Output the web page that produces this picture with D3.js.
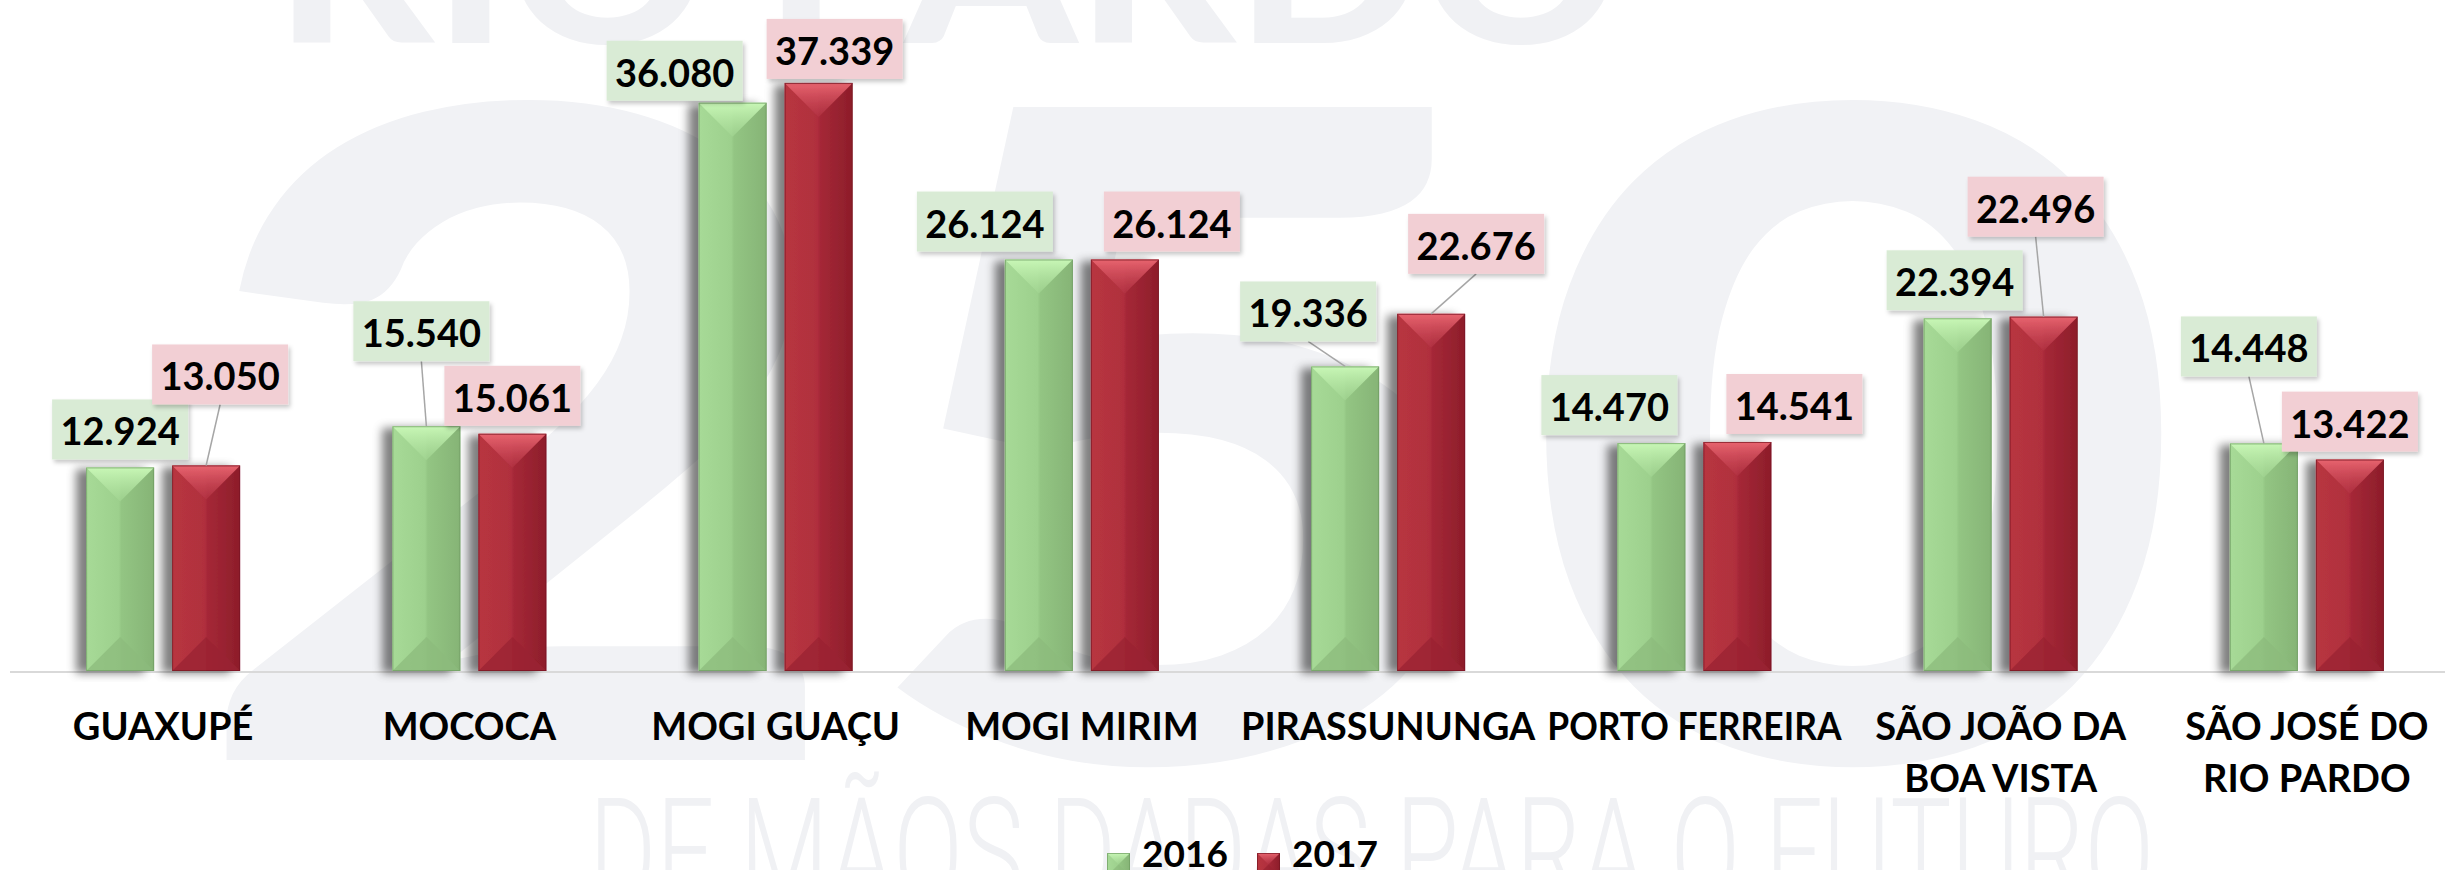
<!DOCTYPE html>
<html>
<head>
<meta charset="utf-8">
<script src="https://cdn.jsdelivr.net/npm/d3@7"></script>
<style>
  html, body { margin: 0; padding: 0; background: #fff; }
  svg { display: block; }
</style>
</head>
<body>
<div id="chart"></div>
<script>
// data
const categories = ['GUAXUPÉ', 'MOCOCA', 'MOGI GUAÇU', 'MOGI MIRIM', 'PIRASSUNUNGA',
  'PORTO FERREIRA', 'SÃO JOÃO DA\nBOA VISTA', 'SÃO JOSÉ DO\nRIO PARDO'];
const seriesNames = ['2016', '2017'];
const values2016 = [12924, 15540, 36080, 26124, 19336, 14470, 22394, 14448];
const values2017 = [13050, 15061, 37339, 26124, 22676, 14541, 22496, 13422];

// manual nudges of the data labels (px), as they were dragged in the original
const nudge2016 = [[0, 0], [-5, -57], [-58, 6], [-54, 0], [-37, -17], [-42, 0], [-3, 0], [-15, -59]];
const nudge2017 = [[14, -53], [0, 0], [16, 4], [47, 0], [45, -32], [57, 0], [-8, -72], [0, 0]];

const width = 2445, height = 870;
const baseY = 671;
const FONT = "Lato, 'Open Sans', sans-serif";

const svg = d3.select('#chart').append('svg')
  .attr('width', width)
  .attr('height', height);

const defs = svg.append('defs');

// colours per series
const pal = {
  '2016': {side: ['#a7da97', '#9dd08d', '#93c583', '#86b476'], top: ['#c8f7b6', '#a3d693'], bottom: '#8cbb7c', edge: '#6f9d62', box: '#d9ebd5'},
  '2017': {side: ['#b8363f', '#b02f3e', '#a52837', '#8d1d2a'], top: ['#e8646f', '#b53445'], bottom: '#992331', edge: '#761522', box: '#f2cfd4'}
};

seriesNames.forEach(s => {
  const p = pal[s];
  const g = defs.append('linearGradient').attr('id', 'side' + s)
    .attr('x1', 0).attr('x2', 1).attr('y1', 0).attr('y2', 0);
  g.append('stop').attr('offset', '0%').attr('stop-color', p.side[0]);
  g.append('stop').attr('offset', '48%').attr('stop-color', p.side[1]);
  g.append('stop').attr('offset', '52%').attr('stop-color', p.side[2]);
  g.append('stop').attr('offset', '100%').attr('stop-color', p.side[3]);
  const t = defs.append('linearGradient').attr('id', 'top' + s)
    .attr('x1', 0).attr('x2', 0).attr('y1', 0).attr('y2', 1);
  t.append('stop').attr('offset', '0%').attr('stop-color', p.top[0]);
  t.append('stop').attr('offset', '100%').attr('stop-color', p.top[1]).attr('stop-opacity', 0.6);
});

// bar shadow falls to the left
const sh = defs.append('filter').attr('id', 'barShadow')
  .attr('x', '-60%').attr('y', '-5%').attr('width', '200%').attr('height', '110%');
sh.append('feGaussianBlur').attr('in', 'SourceAlpha').attr('stdDeviation', 5);
sh.append('feOffset').attr('dx', -10).attr('dy', 2).attr('result', 'off');
sh.append('feFlood').attr('flood-color', '#000').attr('flood-opacity', 0.5);
sh.append('feComposite').attr('in2', 'off').attr('operator', 'in');
const shm = sh.append('feMerge');
shm.append('feMergeNode');
shm.append('feMergeNode').attr('in', 'SourceGraphic');

const ls = defs.append('filter').attr('id', 'boxShadow')
  .attr('x', '-10%').attr('y', '-10%').attr('width', '130%').attr('height', '140%');
ls.append('feGaussianBlur').attr('in', 'SourceAlpha').attr('stdDeviation', 2);
ls.append('feOffset').attr('dx', 2).attr('dy', 3).attr('result', 'off');
ls.append('feFlood').attr('flood-color', '#000').attr('flood-opacity', 0.22);
ls.append('feComposite').attr('in2', 'off').attr('operator', 'in');
const lsm = ls.append('feMerge');
lsm.append('feMergeNode');
lsm.append('feMergeNode').attr('in', 'SourceGraphic');

// watermark in the background
const wm = svg.append('g').attr('class', 'watermark');
wm.append('text')
  .attr('x', 275).attr('y', 43)
  .attr('textLength', 1345).attr('lengthAdjust', 'spacingAndGlyphs')
  .style('font-family', FONT).style('font-weight', 900).style('font-size', '215px')
  .attr('fill', '#f0f1f4')
  .text('RIO PARDO');
wm.append('text')
  .attr('x', 187).attr('y', 760)
  .attr('textLength', 2000).attr('lengthAdjust', 'spacingAndGlyphs')
  .style('font-family', FONT).style('font-weight', 900).style('font-size', '900px')
  .attr('fill', '#f1f2f5')
  .text('250');
wm.append('text')
  .attr('x', 589).attr('y', 905)
  .attr('textLength', 1565).attr('lengthAdjust', 'spacingAndGlyphs')
  .style('font-family', 'Roboto, ' + FONT).style('font-weight', 300).style('font-size', '150px')
  .attr('fill', '#f0f1f4')
  .text('DE MÃOS DADAS PARA O FUTURO');

// scales
const x0 = d3.scaleBand().domain(categories).range([10, 2460]);
const barW = 68, barGap = 18;
const x1 = d3.scaleBand().domain(seriesNames)
  .range([x0.bandwidth() / 2 - barW - barGap / 2, x0.bandwidth() / 2 + barW + barGap / 2])
  .paddingInner(barGap / (barW + barGap));
const y = d3.scaleLinear().domain([0, 40000]).range([baseY, 41]);

const rows = seriesNames.map((s, si) => ({
  name: s,
  values: si === 0 ? values2016 : values2017,
  nudge: si === 0 ? nudge2016 : nudge2017
}));

const points = [];
rows.forEach(r => r.values.forEach((v, i) => points.push({
  series: r.name, cat: categories[i], value: v, nudge: r.nudge[i]
})));

// axis line
svg.append('line')
  .attr('x1', 10).attr('x2', width)
  .attr('y1', baseY + 1).attr('y2', baseY + 1)
  .attr('stroke', '#d9d9d9').attr('stroke-width', 2);

// bars with a bevel
function bevelBar(g, bx, by, w, h, s) {
  const p = pal[s];
  const d = Math.min(w / 2, h / 2);
  g.append('rect')
    .attr('x', bx).attr('y', by).attr('width', w).attr('height', h)
    .attr('fill', `url(#side${s})`);
  g.append('path')
    .attr('d', `M${bx},${by}L${bx + w},${by}L${bx + w / 2},${by + d}Z`)
    .attr('fill', `url(#top${s})`);
  g.append('path')
    .attr('d', `M${bx},${by + h}L${bx + w},${by + h}L${bx + w / 2},${by + h - d}Z`)
    .attr('fill', p.bottom).attr('opacity', 0.75);
  g.append('rect')
    .attr('x', bx + 0.5).attr('y', by + 0.5).attr('width', w - 1).attr('height', h - 1)
    .attr('fill', 'none').attr('stroke', p.edge).attr('stroke-opacity', 0.7).attr('stroke-width', 1);
}

const barLayer = svg.append('g').attr('class', 'bars');
points.forEach(d => {
  const bx = x0(d.cat) + x1(d.series);
  const by = y(d.value);
  const g = barLayer.append('g').attr('filter', 'url(#barShadow)');
  bevelBar(g, bx, by, x1.bandwidth(), baseY - by, d.series);
});

// data labels
const boxW = 136, boxH = 60, boxGap = 8;
const fmt = d3.formatLocale({decimal: ',', thousands: '.', grouping: [3]}).format(',d');
const labLayer = svg.append('g').attr('class', 'labels');
points.forEach(d => {
  const cx = x0(d.cat) + x1(d.series) + x1.bandwidth() / 2;
  const top = y(d.value);
  const bcx = cx + d.nudge[0];
  const bBottom = top - boxGap + d.nudge[1];
  if (Math.abs(d.nudge[1]) > 10) {
    labLayer.append('line')
      .attr('x1', bcx).attr('y1', bBottom)
      .attr('x2', cx).attr('y2', top)
      .attr('stroke', '#a6a6a6').attr('stroke-width', 1.5);
  }
  labLayer.append('rect')
    .attr('x', bcx - boxW / 2).attr('y', bBottom - boxH)
    .attr('width', boxW).attr('height', boxH)
    .attr('fill', pal[d.series].box)
    .attr('filter', 'url(#boxShadow)');
  labLayer.append('text')
    .attr('x', bcx).attr('y', bBottom - 14)
    .attr('text-anchor', 'middle')
    .style('font-family', FONT).style('font-weight', 700).style('font-size', '38px')
    .attr('fill', '#000')
    .text(fmt(d.value));
});

// category labels, squeezed when wider than the slot
const maxLabelW = x0.bandwidth() - 12;
const catLayer = svg.append('g').attr('class', 'categories');
categories.forEach(c => {
  const cx = x0(c) + x0.bandwidth() / 2;
  c.split('\n').forEach((line, li) => {
    const t = catLayer.append('text')
      .attr('x', cx)
      .attr('y', 740 + li * 52)
      .attr('text-anchor', 'middle')
      .style('font-family', FONT).style('font-weight', 700).style('font-size', '38px')
      .attr('fill', '#000')
      .text(line);
    if (t.node().getComputedTextLength() > maxLabelW) {
      t.attr('textLength', maxLabelW).attr('lengthAdjust', 'spacingAndGlyphs');
    }
  });
});

// legend
const legend = svg.append('g').attr('class', 'legend').attr('transform', 'translate(1107,0)');
seriesNames.forEach((s, i) => {
  const g = legend.append('g').attr('transform', `translate(${i * 150},0)`);
  bevelBar(g, 0, 853, 23, 23, s);
  g.append('text')
    .attr('x', 35).attr('y', 867)
    .style('font-family', FONT).style('font-weight', 700).style('font-size', '37px')
    .attr('fill', '#000')
    .text(s);
});
</script>
</body>
</html>
